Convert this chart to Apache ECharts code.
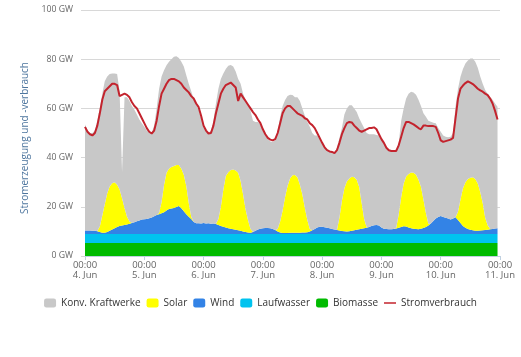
<!DOCTYPE html>
<html>
<head>
<meta charset="utf-8">
<script src="https://cdn.jsdelivr.net/npm/echarts@6/dist/echarts.min.js"></script>
<style>
html,body{margin:0;padding:0;background:#fff;}
#chart{width:521px;height:357px;}
</style>
</head>
<body>
<div id="chart"></div>
<script>
// Day labels (x axis ticks at 00:00 of each day)
var days = ['4. Jun','5. Jun','6. Jun','7. Jun','8. Jun','9. Jun','10. Jun','11. Jun'];
var yTicks = [0, 20, 40, 60, 80, 100];

// Hourly values in GW, 4. Jun 00:00 ... 10. Jun 23:00
var konv = [
43.1,40.6,39.6,39.7,40.7,44.9,48.0,49.5,50.0,47.5,45.7,44.6,44.2,45.0,40.0,10.5,45.0,48.5,49.0,47.6,45.8,43.4,41.1,39.2,
37.6,36.0,34.9,34.3,36.8,43.3,50.5,51.0,46.5,43.7,43.5,43.8,44.4,44.2,43.5,43.5,44.0,45.0,48.5,51.0,50.2,48.2,46.2,42.8,
39.6,37.8,36.7,37.9,41.8,49.0,53.0,52.0,47.2,43.5,43.3,42.6,41.8,40.2,38.2,39.5,41.0,44.5,47.0,48.0,45.2,44.2,43.7,42.4,
39.7,37.6,36.1,35.2,35.4,36.4,39.5,42.6,42.5,39.4,36.5,34.0,32.6,31.6,32.5,34.0,35.0,37.5,40.0,41.5,39.5,38.0,37.4,36.1,
34.1,32.8,31.5,31.2,31.3,31.0,33.4,32.5,29.5,30.0,29.7,29.8,29.1,28.0,27.5,28.0,32.5,37.0,38.3,37.7,37.3,37.0,36.6,36.6,
35.9,34.9,33.0,32.1,31.8,31.7,32.0,29.0,31.0,30.5,31.7,32.7,32.9,32.7,32.5,32.5,32.8,35.0,39.1,42.0,41.4,40.0,38.8,36.1,
34.2,33.1,33.0,33.1,33.7,34.8,45.2,50.0,49.9,48.5,48.3,48.2,48.5,48.3,47.7,47.0,47.0,48.5,52.0,53.5,53.5,52.5,50.8,49.4
];
var solar = [
0,0,0,0,0,0.1,2.2,7.0,11.5,15.7,18.0,18.8,18.7,17.2,14.8,11.1,6.9,3.2,0.9,0,0,0,0,0,
0,0,0,0,0,0,0.5,4.6,11.2,15.3,16.4,16.9,17.1,17.1,16.7,16.1,14.8,11.5,5.5,1.0,0,0,0,0,
0,0,0,0,0,0,2.4,7.8,15.1,20.9,22.7,23.9,24.3,24.1,23.3,20.2,15.0,9.2,4.9,1.5,0,0,0,0,
0,0,0,0,0,0,1.0,4.4,9.1,14.7,19.1,22.0,23.3,23.4,22.5,19.5,15.4,9.9,4.9,1.0,0,0,0,0,
0,0,0,0,0,0,0,5.1,12.3,17.4,20.3,21.4,21.9,21.5,20.3,17.1,10.4,3.7,0.2,0,0,0,0,0,
0,0,0,0,0,0,0.3,5.5,12.2,17.4,20.3,21.7,22.6,22.7,22.0,20.1,17.1,11.6,5.7,0.6,0,0,0,0,
0,0,0,0,0,0,0,3.4,9.6,15.3,18.5,20.3,21.1,21.5,21.0,19.2,15.6,11.0,4.9,1.8,0.1,0,0,0
];
var wind = [
1.5,1.5,1.5,1.4,1.4,1.2,0.9,0.6,0.6,0.9,1.4,1.9,2.4,2.9,3.3,3.5,3.7,3.9,4.2,4.5,4.8,5.2,5.5,5.9,
6.0,6.1,6.4,6.8,7.3,7.8,8.1,8.5,8.9,9.6,10.2,10.4,10.6,11.0,11.4,10.5,9.3,8.1,7.1,6.1,4.9,4.4,4.4,4.3,
4.5,4.3,4.4,4.2,4.3,4.1,3.7,3.3,3.0,2.7,2.4,2.2,2.0,1.8,1.6,1.4,1.1,0.9,0.7,0.6,0.9,1.4,1.9,2.2,
2.4,2.5,2.5,2.4,2.1,1.7,1.1,0.7,0.5,0.4,0.5,0.6,0.6,0.6,0.6,0.6,0.7,0.7,0.8,1.1,1.6,2.1,2.7,3.0,
3.0,2.8,2.6,2.4,2.1,1.9,1.7,1.5,1.3,1.2,1.1,1.2,1.4,1.6,1.8,2.0,2.2,2.4,2.6,2.9,3.3,3.6,3.7,3.5,
2.7,2.2,2.1,2.0,2.0,2.1,2.3,2.6,2.9,3.2,3.1,2.7,2.4,2.2,2.1,2.0,2.2,2.5,2.9,3.5,4.3,5.3,6.3,7.0,
7.4,7.0,6.6,6.3,5.9,6.3,6.9,5.7,4.5,3.3,2.6,2.1,1.8,1.6,1.4,1.4,1.5,1.6,1.7,1.8,2.0,2.1,2.3,2.4
];
var laufwasser = [
3.6,3.6,3.6,3.6,3.6,3.6,3.6,3.6,3.6,3.6,3.6,3.6,3.6,3.6,3.6,3.6,3.6,3.6,3.6,3.6,3.6,3.6,3.6,3.6,
3.6,3.6,3.6,3.6,3.6,3.6,3.6,3.6,3.6,3.6,3.6,3.6,3.6,3.6,3.6,3.6,3.6,3.6,3.6,3.6,3.6,3.6,3.6,3.6,
3.6,3.6,3.6,3.6,3.6,3.6,3.6,3.6,3.6,3.6,3.6,3.6,3.6,3.6,3.6,3.6,3.6,3.6,3.6,3.6,3.6,3.6,3.6,3.6,
3.6,3.6,3.6,3.6,3.6,3.6,3.6,3.6,3.6,3.6,3.6,3.6,3.6,3.6,3.6,3.6,3.6,3.6,3.6,3.6,3.6,3.6,3.6,3.6,
3.6,3.6,3.6,3.6,3.6,3.6,3.6,3.6,3.6,3.6,3.6,3.6,3.6,3.6,3.6,3.6,3.6,3.6,3.6,3.6,3.6,3.6,3.6,3.6,
3.6,3.6,3.6,3.6,3.6,3.6,3.6,3.6,3.6,3.6,3.6,3.6,3.6,3.6,3.6,3.6,3.6,3.6,3.6,3.6,3.6,3.6,3.6,3.6,
3.6,3.6,3.6,3.6,3.6,3.6,3.6,3.6,3.6,3.6,3.6,3.6,3.6,3.6,3.6,3.6,3.6,3.6,3.6,3.6,3.6,3.6,3.6,3.6
];
var biomasse = [
5.3,5.3,5.3,5.3,5.3,5.3,5.3,5.3,5.3,5.3,5.3,5.3,5.3,5.3,5.3,5.3,5.3,5.3,5.3,5.3,5.3,5.3,5.3,5.3,
5.3,5.3,5.3,5.3,5.3,5.3,5.3,5.3,5.3,5.3,5.3,5.3,5.3,5.3,5.3,5.3,5.3,5.3,5.3,5.3,5.3,5.3,5.3,5.3,
5.3,5.3,5.3,5.3,5.3,5.3,5.3,5.3,5.3,5.3,5.3,5.3,5.3,5.3,5.3,5.3,5.3,5.3,5.3,5.3,5.3,5.3,5.3,5.3,
5.3,5.3,5.3,5.3,5.3,5.3,5.3,5.3,5.3,5.3,5.3,5.3,5.3,5.3,5.3,5.3,5.3,5.3,5.3,5.3,5.3,5.3,5.3,5.3,
5.3,5.3,5.3,5.3,5.3,5.3,5.3,5.3,5.3,5.3,5.3,5.3,5.3,5.3,5.3,5.3,5.3,5.3,5.3,5.3,5.3,5.3,5.3,5.3,
5.3,5.3,5.3,5.3,5.3,5.3,5.3,5.3,5.3,5.3,5.3,5.3,5.3,5.3,5.3,5.3,5.3,5.3,5.3,5.3,5.3,5.3,5.3,5.3,
5.3,5.3,5.3,5.3,5.3,5.3,5.3,5.3,5.3,5.3,5.3,5.3,5.3,5.3,5.3,5.3,5.3,5.3,5.3,5.3,5.3,5.3,5.3,5.3
];
var verbrauch = [
52.5,50.5,49.5,49.0,50.0,53.0,58.0,63.5,67.0,68.0,69.0,70.0,70.0,69.5,65.0,65.5,66.0,65.5,64.5,62.5,61.0,60.0,58.0,56.0,
54.0,52.0,50.5,49.8,51.0,55.0,61.0,66.0,68.0,70.0,71.5,72.0,72.0,71.5,71.0,70.0,68.5,67.5,66.5,65.0,64.0,62.0,60.5,57.0,
53.0,51.0,49.8,50.0,53.0,58.0,62.0,66.0,68.0,69.5,70.0,70.5,69.5,68.5,63.0,66.0,64.5,63.0,61.5,60.0,58.5,57.3,55.5,54.0,
51.5,49.5,48.0,47.3,47.0,47.5,50.0,54.0,58.0,60.0,61.0,61.0,60.0,59.0,58.0,57.5,57.0,56.0,55.5,54.0,53.2,52.0,50.0,48.0,
46.0,44.2,43.0,42.5,42.3,41.8,43.0,46.0,49.5,52.0,54.0,54.5,54.3,53.0,52.0,51.0,50.5,51.0,51.5,52.0,52.0,52.3,51.5,49.5,
47.5,46.0,44.0,43.0,42.7,42.7,42.7,45.0,48.5,52.0,54.5,54.5,54.0,53.5,52.8,52.0,51.5,53.0,53.0,52.8,52.8,52.8,52.5,50.0,
47.0,46.4,46.7,47.0,47.3,48.0,56.0,64.0,68.0,69.3,70.3,71.0,70.5,69.9,69.0,68.0,67.3,66.8,66.0,65.4,64.0,62.0,59.0,55.5
];

// hourly categories: every hour of 4.-10. Jun plus 11. Jun 00:00 as axis end
var categories = [];
for (var d = 0; d < days.length; d++) {
  var hMax = (d === days.length - 1) ? 1 : 24;
  for (var h = 0; h < hMax; h++) {
    categories.push({day: days[d], hour: h});
  }
}
var catLabels = categories.map(function (c) {
  return (c.hour < 10 ? '0' : '') + c.hour + ':00|' + c.day;
});

var FONT = 'Open Sans';
function area(name, data, color) {
  return {
    name: name, type: 'line', stack: 'gen', data: data,
    symbol: 'none', showSymbol: false, smooth: false,
    lineStyle: {width: 0}, itemStyle: {color: color},
    areaStyle: {color: color, opacity: 1},
    emphasis: {disabled: true}, silent: true
  };
}

var chart = echarts.init(document.getElementById('chart'), null, {renderer: 'canvas'});
chart.setOption({
  animation: false,
  backgroundColor: '#ffffff',
  textStyle: {fontFamily: FONT},
  grid: {left: 85, right: 21, top: 10, bottom: 101, containLabel: false},
  legend: {
    data: [
      {name: 'Konv. Kraftwerke', icon: 'roundRect'},
      {name: 'Solar', icon: 'roundRect'},
      {name: 'Wind', icon: 'roundRect'},
      {name: 'Laufwasser', icon: 'roundRect'},
      {name: 'Biomasse', icon: 'roundRect'},
      {name: 'Stromverbrauch', icon: 'path://M0,4 L16,4 L16,6 L0,6 Z'}
    ],
    left: 'center', top: 293,
    itemWidth: 12, itemHeight: 9, itemGap: 6,
    textStyle: {fontSize: 10, color: '#333', fontFamily: FONT},
    selectedMode: false
  },
  xAxis: {
    type: 'category', boundaryGap: false, data: catLabels,
    axisLine: {show: true, lineStyle: {color: '#c0d0e0', width: 1}},
    axisTick: {show: true, length: 4, interval: function (i) { return i % 24 === 0; }, lineStyle: {color: '#c0d0e0'}},
    axisLabel: {
      interval: function (i) { return i % 24 === 0; },
      formatter: function (v) { var p = v.split('|'); return p[0] + '\n' + p[1]; },
      fontSize: 9.5, color: '#666', margin: 4, lineHeight: 10.5, fontFamily: FONT
    },
    splitLine: {show: false}
  },
  yAxis: {
    type: 'value', min: yTicks[0], max: yTicks[yTicks.length - 1], interval: 20,
    name: 'Stromerzeugung und -verbrauch', nameLocation: 'middle', nameGap: 52, nameRotate: 90,
    nameTextStyle: {color: '#4d759e', fontSize: 10, fontFamily: FONT, padding: [0, 10, 0, 0]},
    axisLine: {show: false},
    axisTick: {show: true, length: 4, lineStyle: {color: '#d8d8d8'}},
    axisLabel: {formatter: '{value} GW', fontSize: 8.7, color: '#666', margin: 12, fontFamily: FONT},
    splitLine: {show: true, lineStyle: {color: '#d8d8d8', width: 1}}
  },
  series: [
    area('Biomasse', biomasse, '#00bb00'),
    area('Laufwasser', laufwasser, '#00c3ef'),
    area('Wind', wind, '#3383e6'),
    area('Solar', solar, '#ffff00'),
    area('Konv. Kraftwerke', konv, '#c8c8c8'),
    {
      name: 'Stromverbrauch', type: 'line', data: verbrauch,
      symbol: 'none', showSymbol: false, smooth: false, z: 5,
      lineStyle: {color: '#c3232d', width: 2},
      itemStyle: {color: '#c3232d'},
      emphasis: {disabled: true}, silent: true
    }
  ]
});
</script>
</body>
</html>
